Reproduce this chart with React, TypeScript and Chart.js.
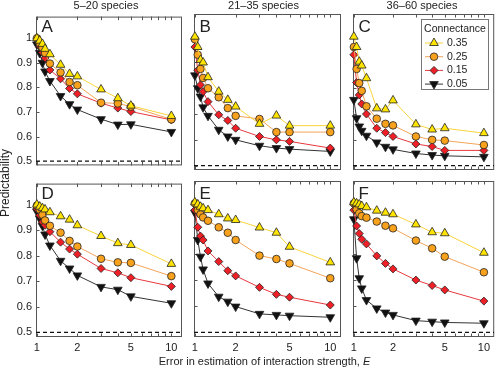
import React, { useEffect, useRef } from 'react';
import { Chart, registerables } from 'chart.js';
import { drawPoint } from 'chart.js/helpers';

Chart.register(...registerables);

const FONT = "'Liberation Sans', Arial, Helvetica, sans-serif";
Chart.defaults.font.family = FONT;

// ---------- data ----------
const E_VALUES = [1, 1.05, 1.1, 1.15, 1.25, 1.5, 1.75, 2, 3, 4, 5, 10];
const CONNECTANCE_LABELS = ['0.35', '0.25', '0.15', '0.05'];
const COLUMN_TITLES = ['5–20 species', '21–35 species', '36–60 species'];
const PANEL_LETTERS = ['A', 'B', 'C', 'D', 'E', 'F'];
const Y_TICKS = [0.5, 0.6, 0.7, 0.8, 0.9, 1];
const X_TICK_LABELS = [1, 2, 5, 10];
const X_MINOR_TICKS = [1, 2, 3, 4, 5, 6, 7, 8, 9, 10];
const CHANCE_LEVEL = 0.5;
const X_MIN = 0.985;
const X_MAX = 12;

const A035 = [1.0, 0.99, 0.977, 0.957, 0.935, 0.892, 0.855, 0.845, 0.792, 0.756, 0.726, 0.684];
const A025 = [1.0, 0.98, 0.961, 0.94, 0.897, 0.861, 0.822, 0.809, 0.738, 0.735, 0.722, 0.67];
const A015 = [0.997, 0.968, 0.942, 0.92, 0.871, 0.835, 0.796, 0.774, 0.736, 0.716, 0.702, 0.668];
const A005 = [0.975, 0.94, 0.9, 0.865, 0.826, 0.765, 0.732, 0.71, 0.671, 0.649, 0.65, 0.619];

const B035 = [1.0, 0.96, 0.91, 0.9, 0.843, 0.787, 0.755, 0.729, 0.662, 0.694, 0.655, 0.655];
const B025 = [0.99, 0.93, 0.875, 0.84, 0.8, 0.765, 0.723, 0.693, 0.681, 0.63, 0.63, 0.63];
const B015 = [0.96, 0.87, 0.813, 0.787, 0.748, 0.697, 0.675, 0.645, 0.613, 0.6, 0.594, 0.568];
const B005 = [0.85, 0.8, 0.768, 0.726, 0.693, 0.639, 0.613, 0.6, 0.577, 0.568, 0.564, 0.555];

const C035 = [1.0, 0.96, 0.903, 0.888, 0.839, 0.722, 0.718, 0.753, 0.66, 0.64, 0.645, 0.626];
const C025 = [0.96, 0.875, 0.82, 0.79, 0.73, 0.682, 0.662, 0.656, 0.613, 0.6, 0.597, 0.58];
const C015 = [0.93, 0.822, 0.774, 0.739, 0.7, 0.645, 0.628, 0.613, 0.584, 0.574, 0.559, 0.559];
const C005 = [0.755, 0.684, 0.652, 0.635, 0.616, 0.59, 0.573, 0.563, 0.547, 0.541, 0.538, 0.534];

const D035 = [1.0, 0.992, 0.986, 0.981, 0.97, 0.954, 0.941, 0.919, 0.877, 0.849, 0.842, 0.768];
const D025 = [0.996, 0.98, 0.96, 0.938, 0.917, 0.89, 0.858, 0.836, 0.788, 0.774, 0.772, 0.72];
const D015 = [0.983, 0.958, 0.932, 0.919, 0.894, 0.853, 0.826, 0.806, 0.75, 0.733, 0.714, 0.68];
const D005 = [0.973, 0.945, 0.917, 0.883, 0.84, 0.78, 0.75, 0.723, 0.678, 0.667, 0.641, 0.614];

const E035 = [1.0, 0.992, 0.983, 0.977, 0.97, 0.954, 0.938, 0.932, 0.903, 0.883, 0.829, 0.769];
const E025 = [0.996, 0.97, 0.954, 0.942, 0.929, 0.904, 0.883, 0.855, 0.795, 0.782, 0.765, 0.708];
const E015 = [0.97, 0.904, 0.87, 0.855, 0.813, 0.772, 0.737, 0.717, 0.673, 0.646, 0.635, 0.605];
const E005 = [0.96, 0.855, 0.791, 0.742, 0.688, 0.637, 0.618, 0.599, 0.571, 0.567, 0.564, 0.558];

const F035 = [1.0, 0.996, 0.992, 0.986, 0.981, 0.968, 0.96, 0.954, 0.915, 0.885, 0.881, 0.806];
const F025 = [0.996, 0.973, 0.958, 0.947, 0.941, 0.926, 0.91, 0.9, 0.853, 0.823, 0.791, 0.731];
const F015 = [0.97, 0.909, 0.88, 0.858, 0.84, 0.794, 0.765, 0.744, 0.701, 0.68, 0.663, 0.62];
const F005 = [0.935, 0.785, 0.708, 0.669, 0.624, 0.592, 0.576, 0.567, 0.545, 0.541, 0.538, 0.535];

const PANEL_SERIES = [
  [A035, A025, A015, A005],
  [B035, B025, B015, B005],
  [C035, C025, C015, C005],
  [D035, D025, D015, D005],
  [E035, E025, E015, E005],
  [F035, F025, F015, F005],
];

// ---------- styles / layout ----------
const SERIES_STYLE = [
  { fill: '#FFE400', line: '#F9D43C', style: 'triangle', rot: 0, r: 5 },
  { fill: '#F7A11C', line: '#F2A45A', style: 'circle', rot: 0, r: 3.8 },
  { fill: '#EE1F26', line: '#E8383D', style: 'rectRot', rot: 0, r: 4 },
  { fill: '#111111', line: '#333333', style: 'triangle', rot: 180, r: 5 },
];

const COLS = [
  { left: 36, right: 182, titleX: 106 },
  { left: 194, right: 341, titleX: 263.5 },
  { left: 353, right: 497, titleX: 422 },
];
const ROWS = [
  { top: 14, bottom: 170, min: 0.483, max: 1.088 },
  { top: 181, bottom: 337, min: 0.482, max: 1.082 },
];

const framePlugin = {
  id: 'frameTicks',
  beforeDatasetsDraw(chart: any) {
    const { ctx, chartArea, scales } = chart;
    const { left, right, top, bottom } = chartArea;
    const xs = scales.x;
    const ys = scales.y;
    ctx.save();
    ctx.strokeStyle = '#555';
    ctx.lineWidth = 1;
    ctx.strokeRect(left + 0.5, top + 0.5, right - left - 1, bottom - top - 1);
    ctx.beginPath();
    X_MINOR_TICKS.forEach((v) => {
      const px = Math.round(xs.getPixelForValue(v)) + 0.5;
      ctx.moveTo(px, top);
      ctx.lineTo(px, top + 3.5);
      ctx.moveTo(px, bottom);
      ctx.lineTo(px, bottom - 3.5);
    });
    Y_TICKS.forEach((v) => {
      const py = Math.round(ys.getPixelForValue(v)) + 0.5;
      ctx.moveTo(left, py);
      ctx.lineTo(left + 3.5, py);
    });
    ctx.stroke();
    ctx.restore();
  },
};

const legendPlugin = {
  id: 'connectanceLegend',
  afterDatasetsDraw(chart: any) {
    const { ctx, chartArea } = chart;
    const x0 = Math.round(chartArea.right - 73);
    const y0 = Math.round(chartArea.top + 5);
    const w = 67;
    const h = 70;
    ctx.save();
    ctx.fillStyle = '#fff';
    ctx.fillRect(x0, y0, w, h);
    ctx.strokeStyle = '#777';
    ctx.lineWidth = 1;
    ctx.strokeRect(x0 + 0.5, y0 + 0.5, w, h);
    ctx.fillStyle = '#222';
    ctx.font = `10.5px ${FONT}`;
    ctx.textAlign = 'center';
    ctx.textBaseline = 'middle';
    ctx.fillText('Connectance', x0 + w / 2 + 0.5, y0 + 10);
    SERIES_STYLE.forEach((s, k) => {
      const yy = y0 + 24 + k * 13.7;
      ctx.strokeStyle = s.line;
      ctx.lineWidth = 1;
      ctx.beginPath();
      ctx.moveTo(x0 + 4, yy);
      ctx.lineTo(x0 + 22, yy);
      ctx.stroke();
      ctx.fillStyle = s.fill;
      ctx.strokeStyle = '#222';
      ctx.lineWidth = 0.8;
      drawPoint(ctx, { pointStyle: s.style, rotation: s.rot, radius: s.r, borderWidth: 0.8 } as any, x0 + 13, yy);
      ctx.fillStyle = '#222';
      ctx.textAlign = 'left';
      ctx.fillText(CONNECTANCE_LABELS[k], x0 + 26, yy);
    });
    ctx.restore();
  },
};

function Panel({ idx }: { idx: number }) {
  const ref = useRef<HTMLCanvasElement>(null);
  const col = idx % 3;
  const row = Math.floor(idx / 3);
  const c = COLS[col];
  const r = ROWS[row];
  const padL = col === 0 ? 36 : 8;
  const padR = col === 2 ? 3 : 6;
  const padT = 8;
  const padB = row === 1 ? 24 : 6;
  const w = c.right - c.left + padL + padR;
  const h = r.bottom - r.top + padT + padB;

  useEffect(() => {
    const series = PANEL_SERIES[idx];
    const datasets: any[] = series.map((vals, k) => ({
      label: CONNECTANCE_LABELS[k],
      data: E_VALUES.map((x, i) => ({ x, y: vals[i] })),
      borderColor: SERIES_STYLE[k].line,
      borderWidth: 1,
      pointStyle: SERIES_STYLE[k].style,
      pointRotation: SERIES_STYLE[k].rot,
      pointRadius: SERIES_STYLE[k].r,
      pointBackgroundColor: SERIES_STYLE[k].fill,
      pointBorderColor: '#222',
      pointBorderWidth: 0.8,
      tension: 0,
      clip: false,
      order: k,
    }));
    datasets.push({
      label: 'chance',
      data: [
        { x: X_MIN, y: CHANCE_LEVEL },
        { x: X_MAX, y: CHANCE_LEVEL },
      ],
      borderColor: '#111',
      borderWidth: 1.2,
      borderDash: [4, 3],
      pointRadius: 0,
      order: 10,
    });

    const chart = new Chart(ref.current as HTMLCanvasElement, {
      type: 'line',
      data: { datasets },
      options: {
        animation: false,
        responsive: false,
        devicePixelRatio: 1,
        layout: { padding: { left: 0, top: padT, right: padR, bottom: 0 } },
        plugins: {
          legend: { display: false },
          tooltip: { enabled: false },
        },
        events: [],
        scales: {
          x: {
            type: 'logarithmic',
            min: X_MIN,
            max: X_MAX,
            position: 'bottom',
            grid: { display: false, drawTicks: false },
            border: { display: false },
            ticks: {
              display: row === 1,
              autoSkip: false,
              maxRotation: 0,
              padding: 4,
              color: '#222',
              font: { family: FONT, size: 11 },
              callback: (v: any) => String(v),
            },
            afterBuildTicks: (s: any) => {
              s.ticks = X_TICK_LABELS.map((v) => ({ value: v }));
            },
            afterFit: (s: any) => {
              s.height = padB;
            },
          },
          y: {
            type: 'linear',
            min: r.min,
            max: r.max,
            grid: { display: false, drawTicks: false },
            border: { display: false },
            ticks: {
              display: col === 0,
              padding: 4,
              color: '#222',
              font: { family: FONT, size: 11 },
              callback: (v: any) => (Number(v) === 1 ? '1' : Number(v).toFixed(1)),
            },
            afterBuildTicks: (s: any) => {
              s.ticks = Y_TICKS.map((v) => ({ value: v }));
            },
            afterFit: (s: any) => {
              s.width = padL;
            },
          },
        },
      } as any,
      plugins: idx === 2 ? [framePlugin, legendPlugin] : [framePlugin],
    });
    return () => chart.destroy();
  }, [idx]);

  return (
    <canvas
      ref={ref}
      width={w}
      height={h}
      style={{ position: 'absolute', left: c.left - padL, top: r.top - padT, width: w, height: h }}
    />
  );
}

const textBase: React.CSSProperties = {
  position: 'absolute',
  fontFamily: FONT,
  color: '#222',
  lineHeight: 1,
  whiteSpace: 'nowrap',
};

export default function App() {
  return (
    <div
      style={{
        position: 'fixed',
        left: 0,
        top: 0,
        width: 500,
        height: 367,
        background: '#fff',
        overflow: 'hidden',
      }}
    >
      {PANEL_LETTERS.map((_, i) => (
        <Panel key={i} idx={i} />
      ))}
      {COLUMN_TITLES.map((t, i) => (
        <div
          key={t}
          style={{ ...textBase, fontSize: 11, top: 0, left: COLS[i].titleX, transform: 'translateX(-50%)' }}
        >
          {t}
        </div>
      ))}
      {PANEL_LETTERS.map((L, i) => {
        const col = i % 3;
        const row = Math.floor(i / 3);
        return (
          <div
            key={L}
            style={{ ...textBase, fontSize: 17, left: COLS[col].left + 5.5, top: ROWS[row].top + 3.5 }}
          >
            {L}
          </div>
        );
      })}
      <div
        style={{
          ...textBase,
          fontSize: 12,
          left: 5,
          top: 183,
          transform: 'translate(-50%, -50%) rotate(-90deg)',
        }}
      >
        Predictability
      </div>
      <div style={{ ...textBase, fontSize: 11, left: 264.5, top: 355.5, transform: 'translateX(-50%)' }}>
        Error in estimation of interaction strength, <i>E</i>
      </div>
    </div>
  );
}
